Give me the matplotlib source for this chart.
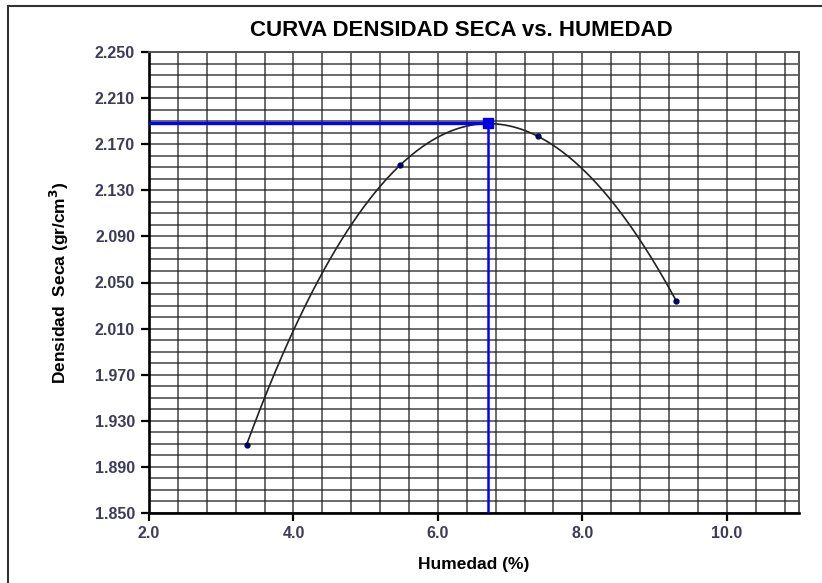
import numpy as np
import matplotlib.pyplot as plt
from matplotlib.patches import Rectangle

# ensayo Proctor: humedad (%) vs densidad seca (gr/cm3)
humedad = [3.35, 5.48, 7.38, 9.30]
densidad = [1.909, 2.152, 2.177, 2.034]
# punto optimo (OCH, MDS)
och = 6.70
mds = 2.188

plt.rcParams['font.family'] = ['Liberation Sans', 'DejaVu Sans']

fig = plt.figure(figsize=(8.22, 5.83), dpi=100)
ax = fig.add_axes([149/822, 70/583, 650/822, 461/583])

# curva de ajuste (polinomio de 3er grado)
coef = np.polyfit(humedad, densidad, 3)
xs = np.linspace(min(humedad), max(humedad), 300)
ax.plot(xs, np.polyval(coef, xs), color='#222222', lw=1.2, zorder=3)
ax.plot(humedad, densidad, 'o', color='#000060', ms=3.5, zorder=4)

# lineas del optimo
ax.plot([2.0, och], [mds, mds], color='#0000ff', lw=2.4, zorder=5)
ax.plot([och, och], [1.85, mds], color='#0000ff', lw=1.8, zorder=5)
ax.plot([och], [mds], 's', color='#0000e0', ms=7, zorder=6)

ax.set_xlim(2.0, 11.0)
ax.set_ylim(1.85, 2.25)
ax.set_xticks(np.arange(2.0, 10.01, 2.0))
ax.set_xticks(np.arange(2.0, 10.85, 0.4), minor=True)
ax.set_yticks(np.arange(1.85, 2.2501, 0.04))
ax.set_yticks(np.arange(1.85, 2.2501, 0.01), minor=True)
ax.set_xticklabels(['%.1f' % v for v in np.arange(2.0, 10.01, 2.0)])
ax.set_yticklabels(['%.3f' % v for v in np.arange(1.85, 2.2501, 0.04)])

ax.grid(which='both', color='#222222', lw=1.1, alpha=0.85)
ax.tick_params(which='major', direction='out', length=6, width=1.6,
               labelsize=11.5, labelcolor='#3c3c58')
ax.tick_params(axis='x', pad=3)
ax.tick_params(axis='y', pad=4)
ax.tick_params(which='minor', length=0)
for t in ax.get_xticklabels() + ax.get_yticklabels():
    t.set_fontweight('bold')

for s in ['left', 'bottom']:
    ax.spines[s].set_linewidth(1.9)
for s in ['right', 'top']:
    ax.spines[s].set_linewidth(1.4)
    ax.spines[s].set_color('#555555')

ax.set_xlabel('Humedad (%)', fontsize=12.5, fontweight='bold', labelpad=12)
ax.set_ylabel('Densidad  Seca (gr/cm$^\\mathbf{3}$)', fontsize=12.5,
              fontweight='bold', labelpad=17)
fig.text(461/822, 1 - 30/583, 'CURVA DENSIDAD SECA vs. HUMEDAD',
         ha='center', va='center', fontsize=16, fontweight='bold')

# marco exterior
fig.patches.append(Rectangle((8/822, -0.05), 1.0, 1 - 6/583 + 0.05,
                             transform=fig.transFigure, fill=False,
                             edgecolor='#333333', lw=1.5))

fig.savefig('out.png', dpi=100)
